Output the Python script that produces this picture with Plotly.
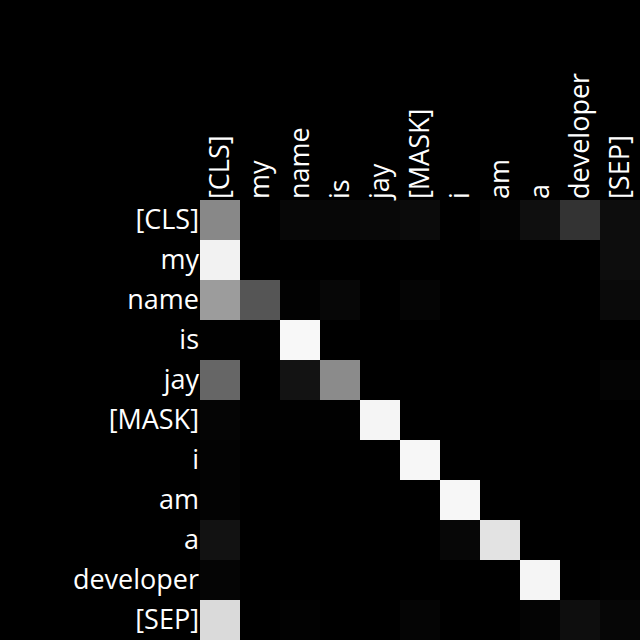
import plotly.graph_objects as go

tokens = ["[CLS]", "my", "name", "is", "jay", "[MASK]", "i", "am", "a", "developer", "[SEP]"]

# attention weights (row = query token, column = key token), read as grey level / 255
row_cls = [136, 0, 7, 7, 8, 11, 0, 4, 15, 51, 13]
row_my = [242, 0, 0, 0, 0, 0, 0, 0, 0, 0, 13]
row_name = [156, 85, 2, 7, 0, 5, 0, 0, 0, 0, 10]
row_is = [1, 1, 248, 0, 0, 0, 0, 0, 0, 0, 0]
row_jay = [102, 0, 19, 139, 0, 0, 0, 0, 0, 0, 4]
row_mask = [5, 1, 1, 1, 245, 0, 0, 0, 0, 0, 0]
row_i = [3, 0, 0, 0, 0, 247, 0, 0, 0, 0, 0]
row_am = [3, 0, 0, 0, 0, 0, 247, 0, 0, 0, 0]
row_a = [18, 0, 0, 0, 0, 0, 7, 227, 0, 0, 0]
row_developer = [5, 0, 0, 0, 0, 0, 0, 0, 245, 0, 2]
row_sep = [218, 0, 2, 0, 0, 5, 0, 0, 4, 14, 6]

rows = [row_cls, row_my, row_name, row_is, row_jay, row_mask, row_i, row_am,
        row_a, row_developer, row_sep]
z = [[v / 255 for v in r] for r in rows]

fig = go.Figure(go.Heatmap(
    z=z, x=tokens, y=tokens,
    colorscale=[[0, "black"], [1, "white"]],
    zmin=0, zmax=1, showscale=False, xgap=0, ygap=0,
))

fig.update_layout(
    width=640, height=640,
    margin=dict(l=200, r=0, t=200, b=0),
    paper_bgcolor="black", plot_bgcolor="black",
    font=dict(family="Open Sans", size=27, color="white"),
    xaxis=dict(side="top", tickangle=-90, showgrid=False, zeroline=False,
               ticks="", showline=False, tickfont=dict(size=27, color="white")),
    yaxis=dict(autorange="reversed", showgrid=False, zeroline=False,
               ticks="", showline=False, tickfont=dict(size=27, color="white")),
)

fig.write_html(
    "out.html",
    config={"displayModeBar": False},
    post_script="document.body.style.margin='0';document.body.style.background='black';",
)
